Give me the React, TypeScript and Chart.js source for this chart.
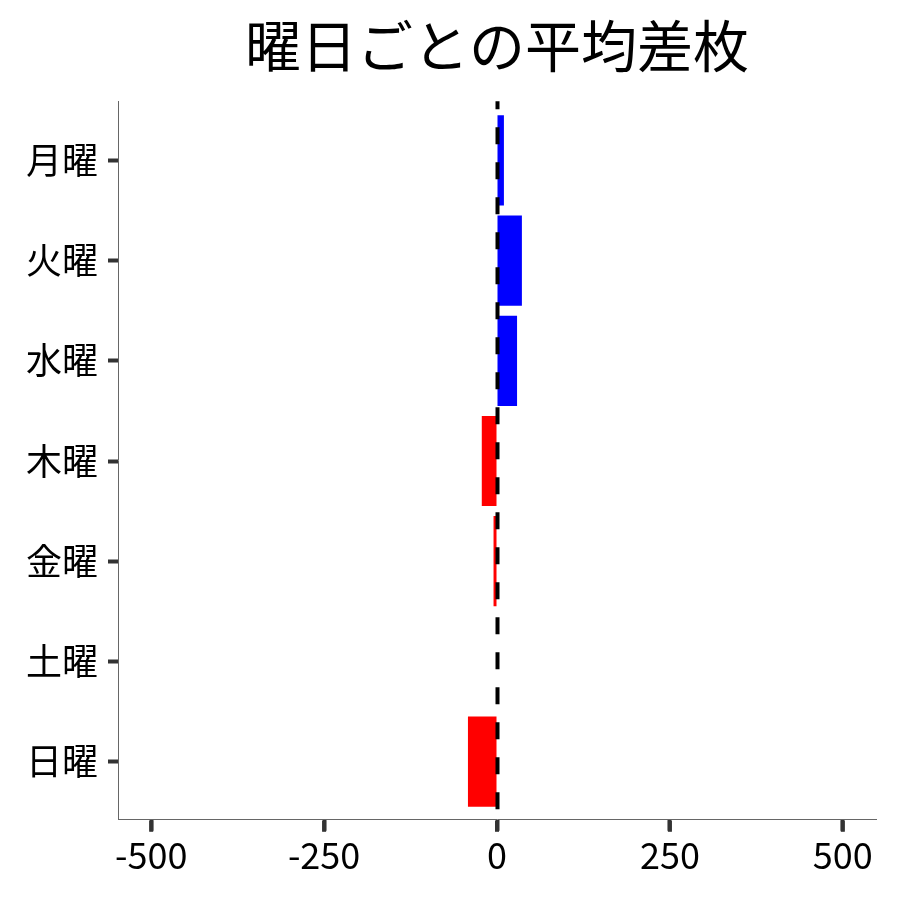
import React, { useEffect, useRef } from "react";
import { Chart, registerables } from "chart.js";

Chart.register(...registerables);

const categories: string[] = ["月曜", "火曜", "水曜", "木曜", "金曜", "土曜", "日曜"];
const values: number[] = [10, 36, 29, -22, -5, 0, -42];
const xTickValues: number[] = [-500, -250, 0, 250, 500];
const titleText = "曜日ごとの平均差枚";

const FONT = "'Noto Sans CJK JP', 'Noto Sans', sans-serif";

const zeroLinePlugin = {
  id: "zeroLine",
  afterDatasetsDraw(chart: any) {
    const { ctx, chartArea, scales } = chart;
    const x = scales.x.getPixelForValue(0) + 0.5;
    ctx.save();
    ctx.strokeStyle = "#000";
    ctx.lineWidth = 4;
    ctx.setLineDash([17, 18]);
    ctx.lineDashOffset = 9;
    ctx.beginPath();
    ctx.moveTo(x, chartArea.top);
    ctx.lineTo(x, chartArea.bottom);
    ctx.stroke();
    ctx.restore();
  },
  afterDraw(chart: any) {
    const { ctx, chartArea, scales } = chart;
    ctx.save();
    ctx.strokeStyle = "#333";
    ctx.lineWidth = 4;
    ctx.setLineDash([]);
    for (const t of scales.x.ticks) {
      const x = scales.x.getPixelForValue(t.value);
      ctx.beginPath();
      ctx.moveTo(x, chartArea.bottom + 1);
      ctx.lineTo(x, chartArea.bottom + 12);
      ctx.stroke();
    }
    ctx.restore();
  },
};

export default function App() {
  const ref = useRef<HTMLCanvasElement | null>(null);
  useEffect(() => {
    document.body.style.margin = "0";
    const canvas = ref.current!;
    const chart = new Chart(canvas, {
      type: "bar",
      data: {
        datasets: [
          {
            data: values.map((v, i) => ({ x: v, y: i })),
            backgroundColor: values.map((v) => (v >= 0 ? "#0000FF" : "#FF0000")),
            borderWidth: 0,
            barPercentage: 0.9,
            categoryPercentage: 1.0,
          },
        ],
      },
      plugins: [zeroLinePlugin],
      options: {
        indexAxis: "y",
        animation: false,
        responsive: false,
        maintainAspectRatio: false,
        layout: { padding: { left: 16, right: 24, top: 0, bottom: 20 } },
        plugins: {
          legend: { display: false },
          tooltip: { enabled: false },
          title: {
            display: true,
            text: titleText,
            fullSize: false,
            color: "#000",
            font: { family: FONT, size: 56, weight: "normal", lineHeight: 1.2 },
            padding: { top: 12, bottom: 22 },
          },
        },
        scales: {
          x: {
            type: "linear",
            offset: false,
            min: -548,
            max: 548,
            afterBuildTicks: (axis: any) => {
              axis.ticks = xTickValues.map((v) => ({ value: v }));
            },
            grid: {
              offset: false,
              display: true,
              drawOnChartArea: false,
              drawTicks: true,
              tickLength: 11,
              tickWidth: 4,
              tickColor: "#333",
              color: "#333",
            },
            border: { display: true, color: "#666", width: 1 },
            ticks: {
              color: "#000",
              font: { family: FONT, size: 36 },
              padding: 3,
              maxRotation: 0,
            },
          },
          y: {
            type: "linear",
            offset: false,
            min: -0.59,
            max: 6.58,
            reverse: true,
            afterBuildTicks: (axis: any) => {
              axis.ticks = categories.map((_, i) => ({ value: i }));
            },
            grid: {
              offset: false,
              drawOnChartArea: false,
              drawTicks: true,
              tickLength: 10,
              tickWidth: 4,
              tickColor: "#333",
              color: "#333",
            },
            border: { display: true, color: "#666", width: 1 },
            ticks: {
              color: "#000",
              font: { family: FONT, size: 36 },
              padding: 10,
              callback: (v: any) => categories[Number(v)] ?? "",
            },
          },
        },
      },
    } as any);
    return () => chart.destroy();
  }, []);
  return <canvas ref={ref} width={900} height={900} style={{ display: "block" }} />;
}
